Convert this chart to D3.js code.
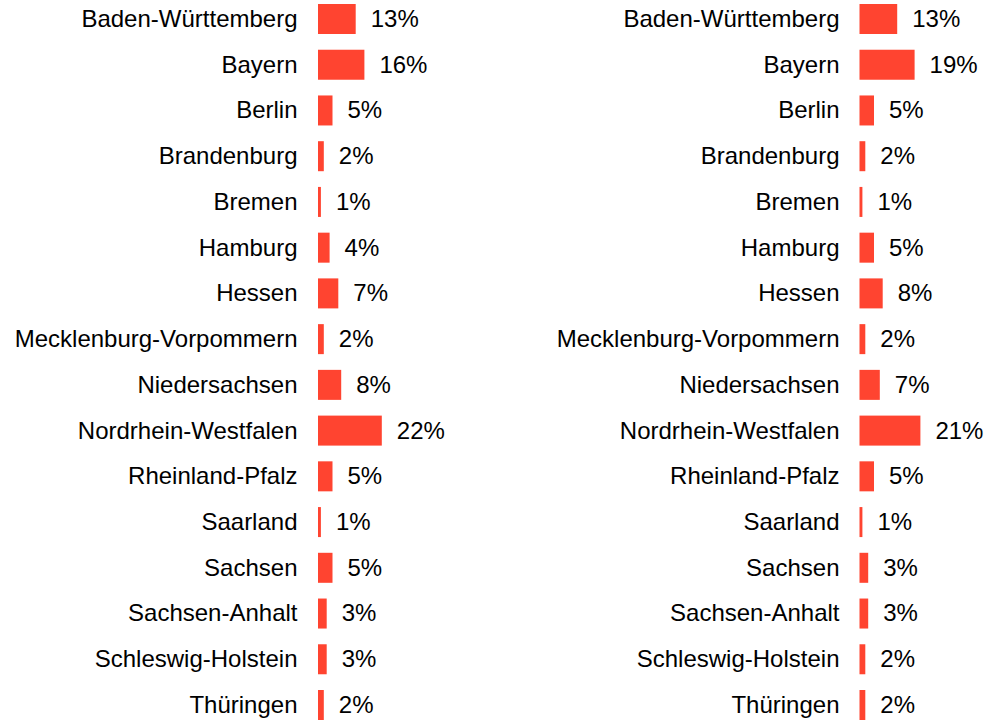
<!DOCTYPE html>
<html>
<head>
<meta charset="utf-8">
<script src="https://cdn.jsdelivr.net/npm/d3@7"></script>
<style>
  html, body { margin: 0; padding: 0; background: #ffffff; }
  svg { display: block; }
  text { font-family: "Liberation Sans", Arial, sans-serif; fill: #000; }
</style>
</head>
<body>
<svg id="chart" width="989" height="721"></svg>
<script>
// Bundesländer in display order
const states = [
  "Baden-Württemberg", "Bayern", "Berlin", "Brandenburg", "Bremen", "Hamburg",
  "Hessen", "Mecklenburg-Vorpommern", "Niedersachsen", "Nordrhein-Westfalen",
  "Rheinland-Pfalz", "Saarland", "Sachsen", "Sachsen-Anhalt",
  "Schleswig-Holstein", "Thüringen"
];

// Shares in percent, left panel
const shareLeft = [13, 16, 5, 2, 1, 4, 7, 2, 8, 22, 5, 1, 5, 3, 3, 2];

// Shares in percent, right panel
const shareRight = [13, 19, 5, 2, 1, 5, 8, 2, 7, 21, 5, 1, 3, 3, 2, 2];

const svg = d3.select("#chart");
const barColor = "#ff4430";
const fontSize = 24;
const barHeight = 30;

// Row centres
const y = d3.scalePoint().domain(states).range([19, 705]);

// Bar length per percent
const x = d3.scaleLinear().domain([0, 100]).range([0, 290]);

function drawPanel(values, labelRight, barLeft) {
  const g = svg.append("g");
  const rows = states.map((s, i) => ({ state: s, value: values[i] }));

  g.selectAll("text.cat")
    .data(rows)
    .join("text")
    .attr("class", "cat")
    .attr("x", labelRight)
    .attr("y", d => y(d.state))
    .attr("dy", "0.33em")
    .attr("text-anchor", "end")
    .style("font-size", fontSize + "px")
    .text(d => d.state);

  g.selectAll("rect")
    .data(rows)
    .join("rect")
    .attr("x", barLeft)
    .attr("y", d => y(d.state) - barHeight / 2)
    .attr("width", d => x(d.value))
    .attr("height", barHeight)
    .attr("fill", barColor);

  g.selectAll("text.val")
    .data(rows)
    .join("text")
    .attr("class", "val")
    .attr("x", d => barLeft + x(d.value) + 15)
    .attr("y", d => y(d.state))
    .attr("dy", "0.33em")
    .style("font-size", fontSize + "px")
    .text(d => d.value + "%");
}

drawPanel(shareLeft, 297.5, 318);
drawPanel(shareRight, 839.5, 859.5);
</script>
</body>
</html>
